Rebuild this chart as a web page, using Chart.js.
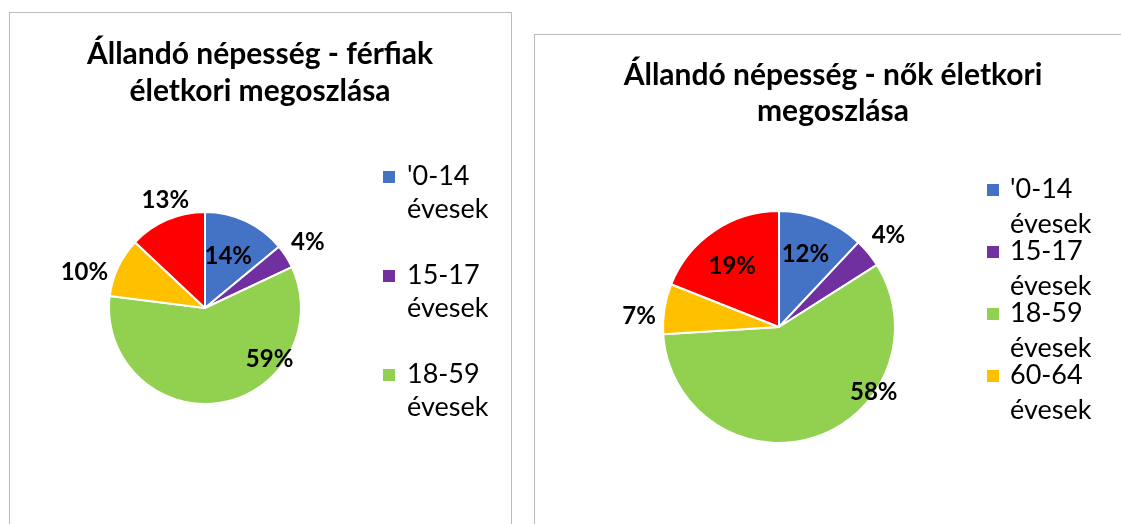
<!DOCTYPE html>
<html><head><meta charset="utf-8">
<script src="https://cdn.jsdelivr.net/npm/chart.js@4.4.1/dist/chart.umd.min.js"></script>
<style>
html,body{margin:0;padding:0;background:#fff;width:1121px;height:524px;overflow:hidden;position:relative}
.box{position:absolute;border:1px solid #bcbcbc;box-sizing:border-box}
canvas{position:absolute;top:0}
</style></head><body>
<div class="box" style="left:9px;top:12px;width:503px;height:530px"></div>
<div class="box" style="left:534px;top:34px;width:600px;height:520px"></div>
<canvas id="c1" width="522" height="524" style="left:0"></canvas>
<canvas id="c2" width="599" height="524" style="left:522px"></canvas>
<script>
// ---- data ----
const categories = ["'0-14 évesek", "15-17 évesek", "18-59 évesek", "60-64 évesek", "65- évesek"];
const maleValues = [14, 4, 59, 10, 13];
const femaleValues = [12, 4, 58, 7, 19];
const maleTitle = ["Állandó népesség - férfiak", "életkori megoszlása"];
const femaleTitle = ["Állandó népesség - nők életkori", "megoszlása"];
const maleLegendCount = 3;
const femaleLegendCount = 4;
const sliceColors = ["#4472C4", "#7030A0", "#92D050", "#FFC000", "#FF0000"];

const FONT = "Lato, 'Open Sans', sans-serif";

const decor = {
  id: 'decor',
  afterDraw(chart, args, o) {
    const ctx = chart.ctx;
    ctx.save();
    ctx.fillStyle = '#000';
    // title
    ctx.textAlign = 'center';
    ctx.textBaseline = 'alphabetic';
    ctx.font = o.titleFont;
    o.title.forEach((t, i) => ctx.fillText(t, o.titleX, o.titleY + i * o.titleLH));
    // legend
    const labels = chart.data.labels;
    const colors = chart.data.datasets[0].backgroundColor;
    ctx.textAlign = 'left';
    ctx.font = o.legendFont;
    for (let i = 0; i < o.legendCount; i++) {
      const base = o.legY + i * o.legStep;
      ctx.fillStyle = colors[i];
      ctx.fillRect(o.legBoxX, base - o.legBoxOff, o.legBox, o.legBox);
      ctx.fillStyle = '#000';
      const parts = labels[i].split(' ');
      parts.forEach((p, j) => ctx.fillText(p, o.legTextX, base + j * o.legLH));
    }
    // data labels
    const meta = chart.getDatasetMeta(0);
    const vals = chart.data.datasets[0].data;
    const total = vals.reduce((a, b) => a + b, 0);
    ctx.font = o.labelFont;
    ctx.textAlign = 'center';
    ctx.textBaseline = 'middle';
    meta.data.forEach((arc, i) => {
      const p = arc.getProps(['x', 'y', 'startAngle', 'endAngle', 'outerRadius'], true);
      const a = p.startAngle + o.labelFrac[i] * (p.endAngle - p.startAngle);
      const r = o.labelDist[i] * p.outerRadius;
      ctx.fillText(Math.round(vals[i] / total * 100) + '%', p.x + r * Math.cos(a), p.y + r * Math.sin(a));
    });
    ctx.restore();
  }
};

function makePie(id, values, padding, deco) {
  return new Chart(document.getElementById(id), {
    type: 'pie',
    data: {
      labels: categories,
      datasets: [{
        data: values,
        backgroundColor: sliceColors,
        borderColor: '#ffffff',
        borderWidth: 2
      }]
    },
    options: {
      responsive: false,
      animation: false,
      layout: { padding: padding },
      plugins: {
        legend: { display: false },
        title: { display: false },
        tooltip: { enabled: false },
        decor: deco
      }
    },
    plugins: [decor]
  });
}

makePie('c1', maleValues, { left: 108, right: 220, top: 211, bottom: 119 }, {
  title: maleTitle, titleFont: "bold 30px " + FONT, titleX: 260, titleY: 64, titleLH: 37,
  legendCount: maleLegendCount, legendFont: "27px " + FONT,
  legBoxX: 383, legBox: 12, legBoxOff: 14, legTextX: 407, legY: 185, legStep: 99, legLH: 33,
  labelFont: "bold 24px " + FONT,
  labelFrac: [0.48, 0.49, 0.30, 0.26, 0.57],
  labelDist: [0.59, 1.27, 0.86, 1.31, 1.20]
});

makePie('c2', femaleValues, { left: 140, right: 225, top: 210, bottom: 80 }, {
  title: femaleTitle, titleFont: "bold 30px " + FONT, titleX: 311, titleY: 85, titleLH: 36,
  legendCount: femaleLegendCount, legendFont: "27px " + FONT,
  legBoxX: 465, legBox: 12, legBoxOff: 14, legTextX: 488, legY: 198, legStep: 62, legLH: 35,
  labelFont: "bold 24px " + FONT,
  labelFrac: [0.46, 0.48, 0.32, 0.31, 0.45],
  labelDist: [0.67, 1.23, 0.99, 1.21, 0.66]
});
</script>
</body></html>
